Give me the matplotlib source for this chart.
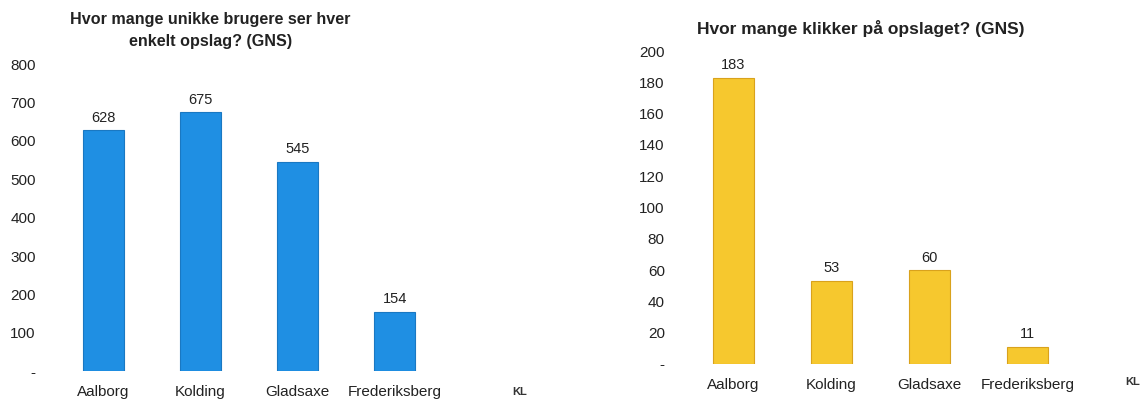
import matplotlib.pyplot as plt

plt.rcParams['font.family'] = ['Liberation Sans', 'DejaVu Sans']

kommuner = ["Aalborg", "Kolding", "Gladsaxe", "Frederiksberg"]
brugere = [628, 675, 545, 154]
klik = [183, 53, 60, 11]
brugere_ticks = [0, 100, 200, 300, 400, 500, 600, 700, 800]
klik_ticks = [0, 20, 40, 60, 80, 100, 120, 140, 160, 180, 200]

fig = plt.figure(figsize=(11.48, 4.03), dpi=100)


def draw(ax, values, ticks, color, edge):
    x = range(len(kommuner))
    bars = ax.bar(x, values, width=0.42, color=color, edgecolor=edge, linewidth=0.8)
    for b, v in zip(bars, values):
        ax.annotate(str(v), (b.get_x() + b.get_width() / 2, v), xytext=(0, 4),
                    textcoords="offset points", ha="center", va="bottom",
                    fontsize=10.5, color="#222222")
    ax.set_xlim(-0.5, len(kommuner) - 0.5)
    ax.set_ylim(ticks[0], ticks[-1])
    ax.set_yticks(ticks)
    ax.set_yticklabels(["-" if t == 0 else str(t) for t in ticks])
    ax.set_xticks(list(x))
    ax.set_xticklabels(kommuner)
    ax.tick_params(length=0, labelsize=11, colors="#222222")
    ax.tick_params(axis="y", pad=14)
    ax.tick_params(axis="x", pad=10)
    for s in ax.spines.values():
        s.set_visible(False)


ax1 = fig.add_axes([0.048, 0.079, 0.338, 0.762])
draw(ax1, brugere, brugere_ticks, "#1f8fe3", "#1a78c2")
fig.text(0.183, 0.925, "Hvor mange unikke brugere ser hver\nenkelt opslag? (GNS)",
         ha="center", va="center", fontsize=11.6, fontweight="bold",
         color="#222222", linespacing=1.55)

ax2 = fig.add_axes([0.596, 0.097, 0.342, 0.776])
draw(ax2, klik, klik_ticks, "#f6c82e", "#d9a21c")
fig.text(0.75, 0.93, "Hvor mange klikker på opslaget? (GNS)",
         ha="center", va="center", fontsize=12.5, fontweight="bold", color="#222222")

# KL logo placeholders
fig.text(0.453, 0.027, "KL", ha="center", va="center", fontsize=8,
         fontweight="bold", color="#333333")
fig.text(0.987, 0.052, "KL", ha="center", va="center", fontsize=8,
         fontweight="bold", color="#333333")

fig.savefig("out.png", dpi=100)
